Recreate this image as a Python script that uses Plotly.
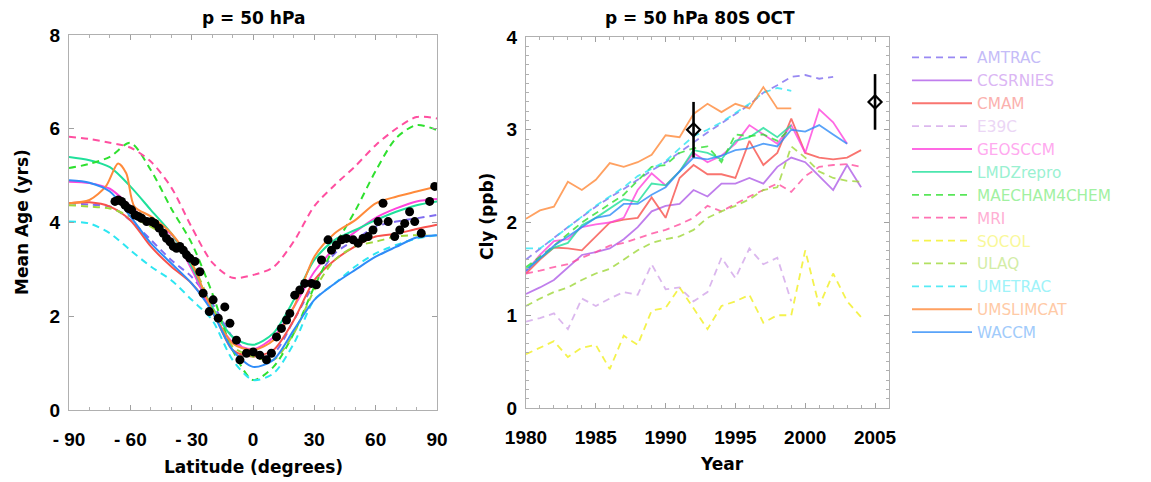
import plotly.graph_objects as go

# ---------------- data: left panel (mean age vs latitude) ----------------
lat = [-90, -80, -70, -60, -50, -40, -30, -20, -10, 0, 10, 20, 30, 40, 50, 60, 70, 80, 90]
age_AMTRAC = [4.41, 4.38, 4.34, 4.05, 3.63, 3.20, 2.84, 2.28, 1.56, 1.17, 1.21, 1.92, 2.70, 3.34, 3.63, 3.91, 4.02, 4.09, 4.16]
age_CMAM = [4.41, 4.43, 4.34, 4.05, 3.49, 3.06, 2.70, 2.13, 1.28, 1.14, 1.28, 1.92, 2.77, 3.20, 3.49, 3.70, 3.76, 3.86, 3.95]
age_GEOSCCM = [4.87, 4.84, 4.72, 4.35, 3.95, 3.75, 3.00, 2.10, 1.45, 1.30, 1.55, 2.20, 2.95, 3.45, 3.80, 4.10, 4.30, 4.45, 4.50]
age_LMDZrepro = [5.40, 5.33, 5.18, 4.77, 4.27, 3.77, 3.06, 2.20, 1.56, 1.39, 1.64, 2.35, 3.20, 3.63, 3.84, 4.05, 4.23, 4.37, 4.45]
age_MAECHAM4CHEM = [5.16, 5.25, 5.40, 5.70, 5.12, 4.30, 3.56, 2.50, 1.28, 0.64, 0.92, 1.64, 2.63, 3.50, 4.25, 5.10, 5.80, 6.08, 5.97]
age_MRI = [5.83, 5.78, 5.70, 5.60, 5.30, 4.75, 3.90, 3.15, 2.82, 2.88, 3.05, 3.60, 4.35, 4.80, 5.20, 5.65, 6.00, 6.25, 6.22]
age_ULAQ = [4.37, 4.34, 4.30, 4.13, 3.91, 3.63, 3.13, 2.20, 1.35, 1.14, 1.07, 1.64, 2.56, 3.20, 3.49, 3.59, 3.70, 3.73, 3.70]
age_UMETRAC = [4.02, 3.98, 3.77, 3.41, 3.06, 2.77, 2.35, 1.92, 1.07, 0.64, 0.78, 1.42, 2.35, 2.70, 3.06, 3.34, 3.52, 3.66, 3.73]
age_WACCM = [4.90, 4.85, 4.66, 4.13, 3.56, 3.13, 2.70, 2.10, 1.28, 0.92, 1.07, 1.71, 2.35, 2.70, 2.99, 3.27, 3.48, 3.68, 3.73]
lat_UMSLIMCAT = [-90, -80, -72, -66, -62, -58, -50, -40, -30, -20, -10, 0, 10, 20, 30, 40, 50, 60, 70, 80, 90]
age_UMSLIMCAT = [4.41, 4.48, 4.77, 5.26, 5.05, 4.34, 4.13, 3.77, 3.13, 2.13, 1.42, 1.28, 1.49, 2.20, 3.27, 3.77, 4.05, 4.41, 4.55, 4.66, 4.77]

obs_lat = [-67.5, -65.9, -64.3, -62.6, -61.0, -59.4, -57.7, -56.1, -54.5, -52.0, -49.6, -48.0, -45.9, -43.9,
           -42.3, -40.6, -39.0, -37.4, -35.8, -34.1, -32.5, -30.9, -28.4, -26.0, -24.4, -21.4, -19.5, -17.0,
           -13.8, -11.3, -8.1, -6.4, -3.2, 0.1, 3.3, 6.6, 9.0, 11.5, 13.9, 16.4, 18.0, 20.4, 22.9, 25.3,
           28.6, 31.0, 33.5, 36.7, 38.4, 40.8, 43.3, 45.7, 49.0, 51.4, 53.8, 56.3, 58.7, 61.2, 63.6, 66.1,
           69.3, 71.8, 74.2, 76.6, 79.1, 82.3, 86.4, 88.9]
obs_age = [4.45, 4.48, 4.45, 4.37, 4.30, 4.27, 4.16, 4.13, 4.09, 4.02, 4.02, 3.98, 3.88, 3.77,
           3.66, 3.59, 3.49, 3.45, 3.49, 3.41, 3.31, 3.24, 3.17, 2.95, 2.49, 2.10, 2.35, 1.96,
           2.20, 1.85, 1.49, 1.07, 1.21, 1.24, 1.17, 1.07, 1.21, 1.56, 1.74, 1.92, 2.06, 2.45, 2.56, 2.70,
           2.70, 2.67, 3.20, 3.63, 3.41, 3.52, 3.63, 3.66, 3.63, 3.56, 3.66, 3.70, 3.84, 4.02, 4.41, 4.02,
           3.70, 3.84, 3.98, 4.23, 4.02, 3.77, 4.45, 4.77]

# ---------------- data: right panel (Cly at 50 hPa, 80S, October) ----------------
years = list(range(1980, 2005))
cly_AMTRAC = [1.60, 1.72, 1.83, 1.95, 2.06, 2.17, 2.27, 2.36, 2.46, 2.56, 2.65, 2.76, 2.87, 2.97, 3.07, 3.17, 3.27, 3.40, 3.48, 3.57, 3.59, 3.55, 3.57]
cly_CCSRNIES = [1.23, 1.30, 1.38, 1.52, 1.65, 1.68, 1.72, 1.82, 1.95, 2.12, 2.18, 2.20, 2.35, 2.28, 2.42, 2.42, 2.48, 2.42, 2.60, 2.70, 2.65, 2.50, 2.35, 2.62, 2.38]
cly_CMAM = [1.45, 1.60, 1.73, 1.72, 1.70, 1.85, 2.00, 2.03, 2.05, 2.27, 2.05, 2.48, 2.62, 2.52, 2.52, 2.48, 2.88, 2.62, 2.75, 3.12, 2.75, 2.70, 2.68, 2.70, 2.78]
cly_E39C = [0.93, 0.97, 1.02, 0.85, 1.18, 1.10, 1.18, 1.25, 1.22, 1.55, 1.28, 1.30, 1.15, 1.25, 1.62, 1.40, 1.72, 1.55, 1.62, 1.15]
cly_GEOSCCM = [1.47, 1.65, 1.80, 1.82, 1.95, 1.98, 2.00, 2.05, 2.35, 2.53, 2.40, 2.55, 2.75, 2.65, 2.72, 2.85, 3.05, 2.95, 2.85, 3.05, 2.75, 3.22, 3.08, 2.85]
cly_LMDZrepro = [1.50, 1.62, 1.73, 1.78, 1.97, 2.05, 2.15, 2.25, 2.22, 2.42, 2.40, 2.55, 2.78, 2.75, 2.68, 2.88, 2.92, 3.02, 2.92, 3.05]
cly_MAECHAM4CHEM = [1.52, 1.63, 1.75, 1.88, 2.00, 2.10, 2.20, 2.30, 2.45, 2.60, 2.62, 2.75, 2.80, 2.82, 2.65, 2.95, 2.93, 2.95, 2.88, 3.02]
cly_MRI = [1.45, 1.48, 1.52, 1.55, 1.62, 1.68, 1.75, 1.78, 1.83, 1.88, 1.92, 1.98, 2.05, 2.18, 2.12, 2.20, 2.28, 2.35, 2.42, 2.33, 2.50, 2.60, 2.62, 2.63, 2.60]
cly_SOCOL = [0.58, 0.65, 0.72, 0.55, 0.65, 0.68, 0.42, 0.78, 0.68, 1.05, 1.08, 1.30, 1.08, 0.85, 1.10, 1.15, 1.22, 0.92, 1.00, 1.00, 1.70, 1.10, 1.45, 1.15, 0.98]
cly_ULAQ = [1.10, 1.18, 1.25, 1.30, 1.38, 1.45, 1.50, 1.60, 1.70, 1.78, 1.82, 1.85, 1.92, 2.05, 2.12, 2.18, 2.25, 2.35, 2.38, 2.82, 2.70, 2.55, 2.48, 2.45, 2.44]
cly_UMETRAC = [1.72, 1.72, 1.83, 1.95, 2.07, 2.18, 2.28, 2.38, 2.50, 2.58, 2.66, 2.80, 2.93, 3.00, 3.08, 3.18, 3.28, 3.40, 3.45, 3.42]
cly_UMSLIMCAT = [2.04, 2.13, 2.17, 2.44, 2.35, 2.46, 2.64, 2.60, 2.65, 2.73, 2.94, 2.92, 3.17, 3.28, 3.19, 3.28, 3.23, 3.46, 3.23, 3.23]
cly_WACCM = [1.48, 1.62, 1.75, 1.85, 1.95, 2.05, 2.08, 2.20, 2.20, 2.30, 2.38, 2.55, 2.70, 2.68, 2.72, 2.78, 2.80, 2.85, 2.82, 3.00, 2.98, 3.05, 2.95, 2.85]

obs_year = [1992, 2005]
obs_cly = [3.0, 3.3]
obs_err = [0.3, 0.3]

models = ["AMTRAC", "CCSRNIES", "CMAM", "E39C", "GEOSCCM", "LMDZrepro", "MAECHAM4CHEM",
          "MRI", "SOCOL", "ULAQ", "UMETRAC", "UMSLIMCAT", "WACCM"]
colors = ["#7f6cf0", "#b05ee8", "#f8524c", "#d3a6ea", "#ff44dd", "#1fe09a", "#2fe02f",
          "#ff4fa0", "#f2f020", "#9fd83a", "#2de6f2", "#ff8a3a", "#2f8cf8"]
dashed = [True, False, False, True, False, False, True, True, True, True, True, False, False]

age_data = {
    "AMTRAC": (lat, age_AMTRAC), "CMAM": (lat, age_CMAM), "GEOSCCM": (lat, age_GEOSCCM),
    "LMDZrepro": (lat, age_LMDZrepro), "MAECHAM4CHEM": (lat, age_MAECHAM4CHEM), "MRI": (lat, age_MRI),
    "ULAQ": (lat, age_ULAQ), "UMETRAC": (lat, age_UMETRAC), "UMSLIMCAT": (lat_UMSLIMCAT, age_UMSLIMCAT),
    "WACCM": (lat, age_WACCM),
}
cly_data = {
    "AMTRAC": cly_AMTRAC, "CCSRNIES": cly_CCSRNIES, "CMAM": cly_CMAM, "E39C": cly_E39C,
    "GEOSCCM": cly_GEOSCCM, "LMDZrepro": cly_LMDZrepro, "MAECHAM4CHEM": cly_MAECHAM4CHEM,
    "MRI": cly_MRI, "SOCOL": cly_SOCOL, "ULAQ": cly_ULAQ, "UMETRAC": cly_UMETRAC,
    "UMSLIMCAT": cly_UMSLIMCAT, "WACCM": cly_WACCM,
}


def lighten(hex_color, f=0.5):
    h = hex_color.lstrip("#")
    r, g, b = (int(h[i:i + 2], 16) for i in (0, 2, 4))
    r, g, b = (int(c + (255 - c) * f) for c in (r, g, b))
    return f"rgb({r},{g},{b})"


DASH = "7px,5px"
fig = go.Figure()

# left panel curves
for m, c, d in zip(models, colors, dashed):
    if m not in age_data:
        continue
    x, y = age_data[m]
    fig.add_trace(go.Scatter(x=x, y=y, mode="lines", line=dict(color=c, width=2, dash=DASH if d else "solid",
                                                             shape="spline", smoothing=0.8),
                             showlegend=False, xaxis="x", yaxis="y", hoverinfo="skip"))

fig.add_trace(go.Scatter(x=obs_lat, y=obs_age, mode="markers",
                         marker=dict(color="black", size=9), showlegend=False, xaxis="x", yaxis="y"))

# right panel curves (also legend)
for m, c, d in zip(models, colors, dashed):
    y = cly_data[m]
    fig.add_trace(go.Scatter(x=years[:len(y)], y=y, mode="lines",
                             line=dict(color=c, width=1.8, dash=DASH if d else "solid"),
                             opacity=0.8,
                             name=f"<span style='color:{lighten(c, 0.55)}'>{m}</span>",
                             legendgroup=m, showlegend=True, xaxis="x2", yaxis="y2"))

fig.add_trace(go.Scatter(x=obs_year, y=obs_cly, mode="markers",
                         marker=dict(symbol="diamond-open", size=10, color="black", line=dict(width=2.2)),
                         error_y=dict(type="data", array=obs_err, color="black", thickness=2.6, width=0),
                         showlegend=False, xaxis="x2", yaxis="y2"))

W, H = 1151, 482
tickfont = dict(family="Liberation Sans, Arial", size=19, color="black", weight="bold")
axis_common = dict(showline=True, linecolor="#b0b0b0", linewidth=1, mirror="ticks", ticks="inside",
                   tickcolor="#a0a0a0", ticklen=5, showgrid=False, zeroline=False, tickfont=tickfont,
                   automargin=False)

fig.update_layout(
    width=W, height=H, margin=dict(l=0, r=0, t=0, b=0, autoexpand=False),
    paper_bgcolor="white", plot_bgcolor="white",
    xaxis=dict(domain=[69 / W, 437 / W], range=[-90, 90], tickvals=[-90, -60, -30, 0, 30, 60, 90],
               ticktext=["- 90", "- 60", "- 30", "0", "30", "60", "90"], ticklabelstandoff=12,
               minor=dict(dtick=10, ticks="inside", ticklen=3, tickcolor="#b0b0b0"), **axis_common),
    yaxis=dict(domain=[72 / H, 447 / H], range=[0, 8], tickvals=[0, 2, 4, 6, 8], ticklabelstandoff=4,
               anchor="x", **axis_common),
    xaxis2=dict(domain=[526 / W, 889 / W], range=[1980, 2006], tickvals=[1980, 1985, 1990, 1995, 2000, 2005],
                ticklabelstandoff=12, anchor="y2",
                minor=dict(dtick=1, ticks="inside", ticklen=3, tickcolor="#b0b0b0"), **axis_common),
    yaxis2=dict(domain=[74 / H, 445 / H], range=[0, 4], tickvals=[0, 1, 2, 3, 4], ticklabelstandoff=4,
                anchor="x2", minor=dict(dtick=0.1, ticks="inside", ticklen=3, tickcolor="#b0b0b0"),
                **axis_common),
    legend=dict(x=907 / W, xanchor="left", y=(H - 41) / H, yanchor="top", bgcolor="rgba(0,0,0,0)",
                font=dict(family="DejaVu Sans, Liberation Sans", size=15.3), tracegroupgap=0,
                itemwidth=60),
    showlegend=True,
)

title_font = dict(family="DejaVu Sans, Liberation Sans", size=17, color="black", weight="bold")
label_font = dict(family="DejaVu Sans, Liberation Sans", size=17, color="black", weight="bold")
ann = [
    dict(text="p = 50 hPa", x=253 / W, y=(H - 18) / H, font=title_font),
    dict(text="p = 50 hPa 80S OCT", x=700 / W, y=(H - 18) / H, font=title_font),
    dict(text="Latitude (degrees)", x=253 / W, y=(H - 467) / H, font=label_font),
    dict(text="Year", x=722 / W, y=(H - 464) / H, font=label_font),
    dict(text="Mean Age (yrs)", x=22 / W, y=(H - 222) / H, font=label_font, textangle=-90),
    dict(text="Cly (ppb)", x=487 / W, y=(H - 217) / H, font=label_font, textangle=-90),
]
for a in ann:
    fig.add_annotation(xref="paper", yref="paper", showarrow=False, xanchor="center", yanchor="middle", **a)

fig.write_html("out.html", config={"displayModeBar": False},
               post_script="document.body.style.margin='0px';")
